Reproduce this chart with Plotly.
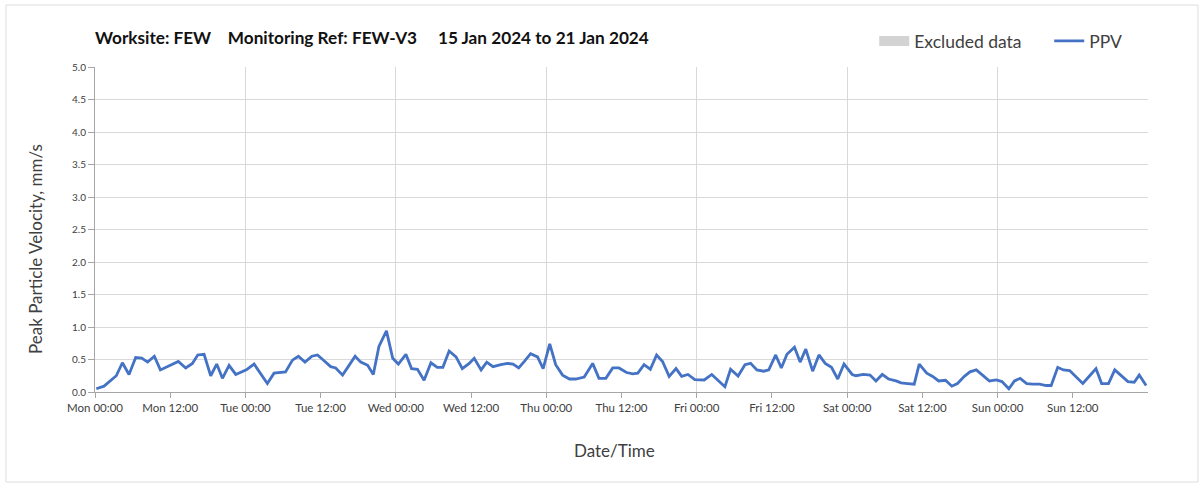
import pandas as pd
import plotly.graph_objects as go

# Monitoring period start and readings (elapsed hours from start, PPV in mm/s)
period_start = pd.Timestamp("2024-01-15 00:00")
period_end = pd.Timestamp("2024-01-22 00:00")

elapsed_h = [
    0.21, 1.44, 3.4, 4.37, 5.43, 6.49, 7.45, 8.4, 9.47, 10.43, 13.3, 14.47, 15.54, 16.39, 17.4,
    18.46, 19.42, 20.33, 21.39, 22.46,
    24.15, 25.38, 27.5, 28.57, 30.4, 31.5, 32.45, 33.5, 34.6, 35.5, 36.55, 37.6, 38.4, 39.5,
    40.4, 41.5, 42.4, 43.5, 44.4, 45.3, 46.5, 47.5,
    48.4, 49.6, 50.5, 51.45, 52.5, 53.6, 54.6, 55.5, 56.5, 57.6, 58.6, 59.7, 60.5, 61.6, 62.5,
    63.5, 64.75, 65.8, 66.7, 67.6, 68.5, 69.5, 70.6, 71.5, 72.55,
    73.5, 74.6, 75.7, 76.7, 78.05, 79.4, 80.4, 81.5, 82.6, 83.6, 84.8, 85.8, 86.6, 87.6, 88.6,
    89.6, 90.55, 91.6, 92.7, 93.6, 94.6, 95.7,
    97.2, 98.4, 99.4, 100.5, 101.4, 102.6, 103.7, 104.6, 105.6, 106.7, 107.5, 108.6, 109.5,
    110.4, 111.6, 112.5, 113.4, 114.5, 115.5, 116.5, 117.5, 118.5, 119.5,
    120.8, 121.4, 122.6, 123.65, 124.6, 125.6, 126.6, 127.8, 128.6, 129.65, 130.7, 131.5,
    132.7, 133.65, 134.6, 135.7, 136.7, 137.6, 138.7, 139.6, 140.6, 141.6, 142.7,
    143.8, 144.7, 145.8, 146.7, 147.6, 148.65, 149.6, 150.7, 151.75, 152.55, 153.6, 154.5,
    155.5, 156.5, 157.6, 158.7, 159.7, 160.6, 161.7, 162.7, 163.7, 164.8, 165.8, 166.6, 167.7,
]

ppv_mm_s = [
    0.05, 0.09, 0.25, 0.45, 0.27, 0.53, 0.52, 0.46, 0.55, 0.34, 0.47, 0.37, 0.44, 0.57, 0.58,
    0.25, 0.43, 0.21, 0.41, 0.27,
    0.34, 0.43, 0.13, 0.29, 0.31, 0.49, 0.55, 0.46, 0.55, 0.57, 0.48, 0.39, 0.37, 0.26,
    0.39, 0.55, 0.46, 0.41, 0.27, 0.70, 0.94, 0.52,
    0.43, 0.58, 0.36, 0.35, 0.18, 0.45, 0.38, 0.38, 0.63, 0.54, 0.36, 0.44, 0.52, 0.34, 0.46,
    0.39, 0.42, 0.44, 0.43, 0.37, 0.47, 0.59, 0.54, 0.36, 0.74,
    0.42, 0.26, 0.20, 0.20, 0.23, 0.44, 0.21, 0.21, 0.37, 0.37, 0.30, 0.28, 0.29, 0.42, 0.35,
    0.57, 0.47, 0.24, 0.36, 0.24, 0.27, 0.19,
    0.185, 0.27, 0.185, 0.08, 0.35, 0.245, 0.42, 0.44, 0.34, 0.32, 0.34, 0.57, 0.37,
    0.58, 0.69, 0.46, 0.66, 0.32, 0.57, 0.44, 0.38, 0.20, 0.43,
    0.27, 0.25, 0.27, 0.26, 0.17, 0.27, 0.20, 0.17, 0.14, 0.13, 0.12, 0.43,
    0.29, 0.24, 0.17, 0.18, 0.09, 0.13, 0.24, 0.31, 0.34, 0.26, 0.17,
    0.185, 0.16, 0.05, 0.17, 0.21, 0.13, 0.12, 0.12, 0.10, 0.10, 0.38, 0.34,
    0.33, 0.24, 0.13, 0.25, 0.36, 0.13, 0.13, 0.34, 0.26, 0.16, 0.15, 0.26, 0.10,
]

reading_times = period_start + pd.to_timedelta(elapsed_h, unit="h")

# Labelled ticks every 12 hours, up to the last half-day of the week
tick_times = pd.date_range(period_start, period_end - pd.Timedelta(hours=12), freq="12h")

TEXT = "#404040"
GRID = "#d9d9d9"
AXIS = "#a6a6a6"
FONT = "Lato, 'Open Sans', sans-serif"

fig = go.Figure()

# Legend-only entry for excluded periods (none in this week); a thick
# grey stroke gives the wide swatch in the legend
fig.add_trace(go.Scatter(
    x=[None], y=[None], name="Excluded data", mode="lines",
    line=dict(color="#d3d3d3", width=11),
    showlegend=True, hoverinfo="skip",
))

fig.add_trace(go.Scatter(
    x=reading_times, y=ppv_mm_s, mode="lines", name="PPV",
    line=dict(color="#4472c4", width=2.8),
))

# Carrier for the daily grid axis
fig.add_trace(go.Scatter(
    x=[period_start, period_end], y=[None, None], xaxis="x2",
    mode="lines", showlegend=False, hoverinfo="skip",
))

fig.update_layout(
    width=1203, height=484,
    margin=dict(l=95, r=55, t=67, b=92, autoexpand=False),
    paper_bgcolor="white", plot_bgcolor="white",
    font=dict(family=FONT, color=TEXT),
    title=dict(
        text="<b>Worksite: FEW&nbsp;&nbsp;&nbsp;&nbsp;Monitoring Ref: FEW-V3&nbsp;&nbsp;&nbsp;&nbsp;&nbsp;15 Jan 2024 to 21 Jan 2024</b>",
        x=95 / 1203, xanchor="left", y=1 - 38 / 484, yanchor="middle",
        font=dict(size=17.2, color="#111111", family=FONT),
    ),
    legend=dict(
        orientation="h", x=0.740, xanchor="left", y=1.08, yanchor="middle",
        font=dict(size=17.5, color=TEXT), bgcolor="rgba(0,0,0,0)",
        traceorder="normal", entrywidth=130, entrywidthmode="pixels",
    ),
    showlegend=True,
    xaxis=dict(
        type="date",
        range=[period_start, period_end],
        tickvals=tick_times,
        tickformat="%a %H:%M",
        ticks="outside", ticklen=5, tickcolor=AXIS,
        showgrid=False, showline=True, linecolor=AXIS, linewidth=1,
        tickfont=dict(size=11.5, color=TEXT),
        zeroline=False,
    ),
    xaxis2=dict(
        type="date",
        overlaying="x", anchor="y", matches="x",
        range=[period_start, period_end],
        tick0=period_start, dtick=24 * 3600 * 1000,
        showgrid=True, gridcolor=GRID, gridwidth=1,
        showticklabels=False, ticks="", showline=False, zeroline=False,
    ),
    yaxis=dict(
        range=[0, 5], dtick=0.5, tickformat=".1f",
        ticks="outside", ticklen=6, tickcolor=AXIS,
        showgrid=True, gridcolor=GRID, gridwidth=1,
        showline=True, linecolor=AXIS, linewidth=1,
        tickfont=dict(size=10, color=TEXT),
        zeroline=False,
    ),
)

# Axis titles
fig.add_annotation(
    text="Date/Time", xref="paper", yref="paper",
    x=(614 - 95) / 1053, y=(392 - 450) / 325, xanchor="center", yanchor="middle",
    showarrow=False, font=dict(size=17, color=TEXT),
)
fig.add_annotation(
    text="Peak Particle Velocity, mm/s", xref="paper", yref="paper", textangle=-90,
    x=(35 - 95) / 1053, y=(392 - 249) / 325, xanchor="center", yanchor="middle",
    showarrow=False, font=dict(size=17, color=TEXT),
)

# Thin frame round the whole chart
fig.add_shape(
    type="rect", xref="paper", yref="paper",
    x0=(6 - 95) / 1053, x1=(1198 - 95) / 1053,
    y0=(392 - 482) / 325, y1=1 + (67 - 5) / 325,
    line=dict(color="#dddddd", width=1), fillcolor="rgba(0,0,0,0)", layer="below",
)

fig.write_html("out.html")
